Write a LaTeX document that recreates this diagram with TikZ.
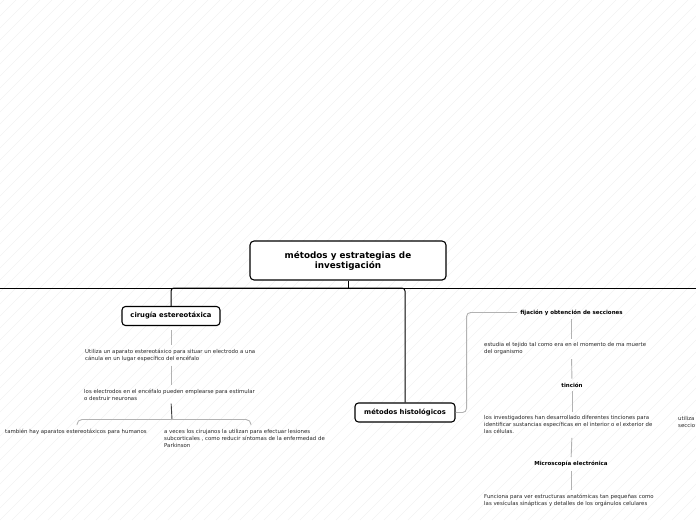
\documentclass[tikz,border=0pt]{standalone}
\usepackage{fontspec}
\setmainfont{DejaVu Sans}
\usepackage{tikz}
\usetikzlibrary{arrows.meta}
\usetikzlibrary{calc}

\begin{document}
\begin{tikzpicture}[x=1pt, y=-1pt,
        root_style/.style={draw=black, line width=1.1pt, rounded corners=4pt, fill=white, minimum width=196pt, minimum height=39pt, align=center, font=\fontsize{8.8}{10}\selectfont\bfseries, inner sep=0pt},
        topic_style/.style={draw=black, line width=1.1pt, rounded corners=3.5pt, fill=white, minimum height=19pt, inner sep=0pt, font=\fontsize{6.8}{8}\selectfont\bfseries},
        note_style/.style={anchor=north west, align=left, inner sep=0pt, text=black!85, font=\fontsize{5.4}{6.9}\selectfont},
        sub_style/.style={inner sep=0pt, font=\fontsize{5.5}{6.5}\selectfont\bfseries},
        edge_style/.style={draw=black, line width=1pt, rounded corners=3pt},
        sub_edge_style/.style={draw=black!30, line width=0.9pt, shorten <=4pt, shorten >=4pt},
        hatch_style/.style={draw=black!5, line width=0.5pt}]

        \useasboundingbox (0,0) rectangle (696,520);
        \begin{scope}
        \clip (0,0) rectangle (696,520);
        \foreach \i in {-528,-516,...,696}
            \draw [hatch_style] (\i,520) -- ++(520,-520);
        \end{scope}

        % main topic
        \node [root_style](root) at (348,260.5) {m\'etodos y estrategias de\\investigaci\'on};
        \coordinate (hub) at (348,288);
        \coordinate (west_end) at (0,288);
        \coordinate (east_end) at (696,288);

        \node [topic_style, minimum width=98pt](cir) at (171,316) {cirug\'ia estereot\'axica};
        \node [topic_style, minimum width=100pt](hist) at (405,412.5) {m\'etodos histol\'ogicos};

        \draw [edge_style] (root.south) -- (hub);
        \draw [edge_style] (hub) -- (west_end);
        \draw [edge_style] (hub) -- (east_end);
        \draw [edge_style] (hub) -| (cir.north);
        \draw [edge_style] (hub) -| (hist.north);

        % cirugia estereotaxica
        \node [note_style](ut) at (85,349) {Utiliza un aparato estereot\'axico para situar un electrodo a una\\c\'anula en un lugar espec\'ifico del enc\'efalo};
        \node [note_style](elec) at (84,389) {los electrodos en el enc\'efalo pueden emplearse para estimular\\o destruir neuronas};
        \node [note_style](hum) at (5,429) {tambi\'en hay aparatos estereot\'axicos para humanos};
        \node [note_style](park) at (164,429) {a veces los cirujanos la utilizan para efectuar lesiones\\subcorticales , como reducir s\'intomas de la enfermedad de\\Parkinson};
        \coordinate (brace_mid) at (172,419.5);

        \draw [sub_edge_style] (cir.south) -- (cir.south |- ut.north);
        \draw [sub_edge_style] (cir.south |- ut.south) -- (cir.south |- elec.north);
        \draw [draw=black!75, line width=0.9pt, shorten <=3pt] (cir.south |- elec.south) -- (brace_mid);
        \draw [draw=black!30, line width=0.9pt, rounded corners=5pt] ($(hum.north -| brace_mid)+(-95,-4)$) |- (brace_mid) -| ($(brace_mid)+(79,5.5)$);

        % metodos histologicos
        \node [sub_style](fij) at (571.5,312.5) {fijaci\'on y obtenci\'on de secciones};
        \node [note_style](est) at (484,342.5) {estudia el tejido tal como era en el momento de ma muerte\\del organismo};
        \node [sub_style](tin) at (572,385) {tinci\'on};
        \node [note_style](inv) at (484,415.5) {los investigadores han desarrollado diferentes tinciones para\\identificar sustancias espec\'ificas en el interior o el exterior de\\las c\'elulas.};
        \node [sub_style](mic) at (571,464) {Microscop\'ia electr\'onica};
        \node [note_style](fun) at (484,494) {Funciona para ver estructuras anat\'omicas tan peque\~nas como\\las ves\'iculas sin\'apticas y detalles de los org\'anulos celulares};
        \node [note_style](uti) at (678,416) {utiliza\\seccio};

        \draw [draw=black!30, line width=0.9pt, rounded corners=4pt, shorten >=3pt] (hist.east) -- ++(11,0) |- (fij.west);
        \draw [sub_edge_style] (fij.south) -- (fij.south |- est.north);
        \draw [sub_edge_style] (fij.south |- est.south) -- (tin.north);
        \draw [sub_edge_style] (tin.south) -- (tin.south |- inv.north);
        \draw [sub_edge_style] (tin.south |- inv.south) -- (mic.north);
        \draw [sub_edge_style] (mic.south) -- (mic.south |- fun.north);

        \end{tikzpicture}
\end{document}
